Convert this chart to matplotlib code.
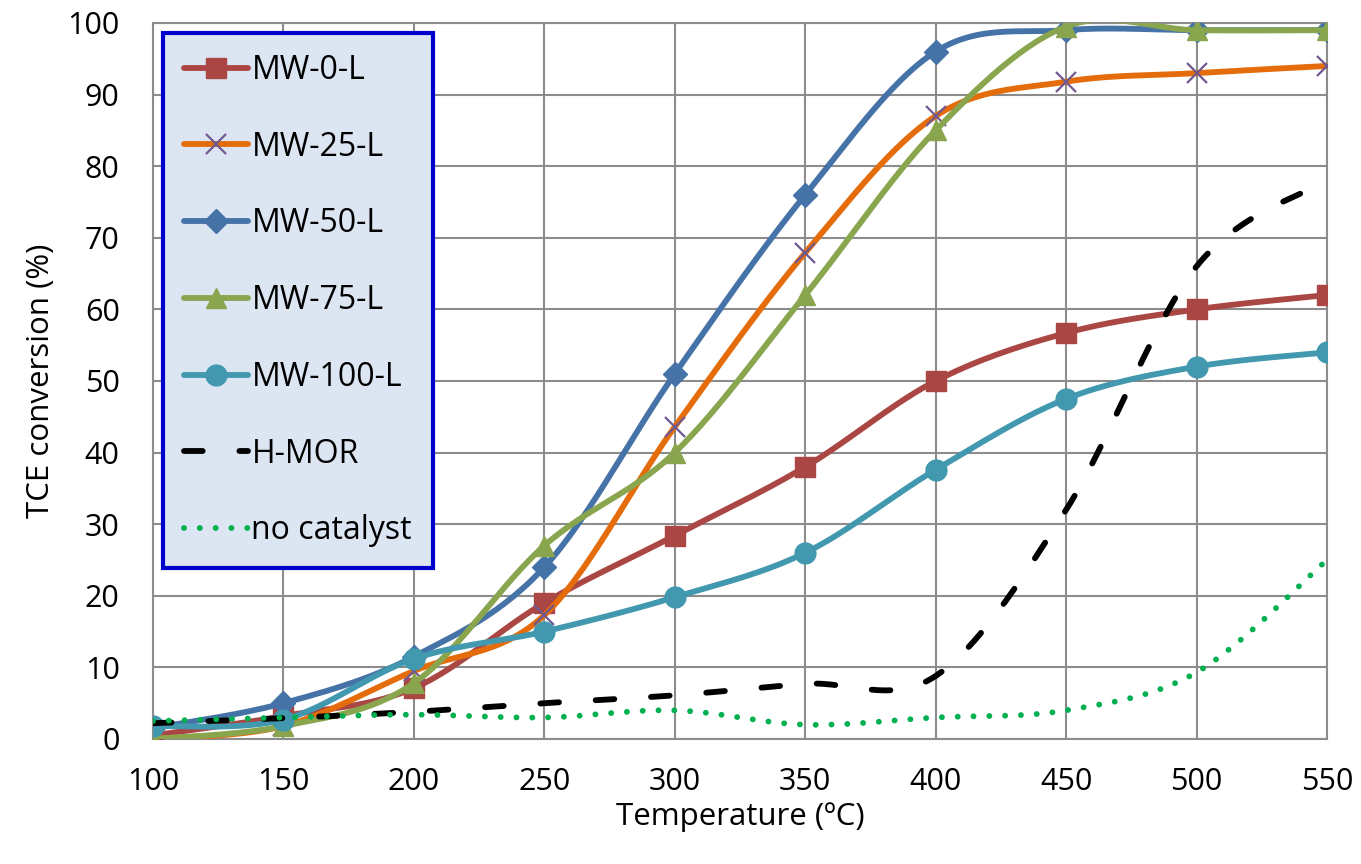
import numpy as np
import matplotlib
matplotlib.use('Agg')
import matplotlib.pyplot as plt

# -----------------------------------------------------------------------------------------------------------
# TCE conversion versus temperature for the MW-x-L catalysts, H-MOR and the blank run.
# -----------------------------------------------------------------------------------------------------------

temperature = [100, 150, 200, 250, 300, 350, 400, 450, 500, 550]

mw_0_l = [0.5, 3.2, 7.1, 19.0, 28.4, 38.0, 50.0, 56.7, 60.0, 62.0]
mw_25_l = [0.0, 1.8, 9.5, 17.3, 43.6, 67.9, 87.0, 91.8, 93.0, 94.0]
mw_50_l = [1.5, 5.0, 11.5, 24.0, 51.0, 76.0, 96.0, 99.0, 99.0, 99.0]
mw_75_l = [0.0, 1.8, 7.8, 27.0, 40.0, 62.0, 85.0, 99.5, 99.0, 99.0]
mw_100_l = [1.8, 2.7, 11.2, 15.0, 19.8, 26.0, 37.6, 47.5, 52.0, 54.0]
h_mor = [2.2, 2.9, 3.8, 5.0, 6.1, 7.7, 8.8, 32.0, 66.0, 78.0]
no_catalyst = [2.5, 3.0, 3.4, 3.0, 4.0, 2.0, 3.0, 4.0, 9.3, 25.0]

labels = ['MW-0-L', 'MW-25-L', 'MW-50-L', 'MW-75-L', 'MW-100-L', 'H-MOR', 'no catalyst']

N_SEG = 30


def smooth(x, y, n=N_SEG):
    # Excel-like smoothed line: cubic Bezier through every point
    x = np.asarray(x, float)
    y = np.asarray(y, float)
    pts = np.column_stack([x, y])
    out = [pts[0]]
    t = np.linspace(0, 1, n + 1)[1:]
    for i in range(len(pts) - 1):
        p0 = pts[i - 1] if i > 0 else pts[i]
        p1 = pts[i]
        p2 = pts[i + 1]
        p3 = pts[i + 2] if i + 2 < len(pts) else pts[i + 1]
        c1 = p1 + (p2 - p0) / 6
        c2 = p2 - (p3 - p1) / 6
        for tt in t:
            b = ((1 - tt) ** 3) * p1 + 3 * ((1 - tt) ** 2) * tt * c1 + 3 * (1 - tt) * tt ** 2 * c2 + tt ** 3 * p2
            out.append(b)
    out = np.array(out)
    return out[:, 0], out[:, 1]


plt.rcParams['font.family'] = ['Open Sans', 'DejaVu Sans']

fig = plt.figure(figsize=(13.61, 8.64), dpi=100)
ax = fig.add_axes([0.1124, 0.1447, 0.8626, 0.8287])

lw = 4.2
grid_c = '#8c8c8c'

styles = [
    dict(color='#aa4643', marker='s', ms=14, mfc='#aa4643', mec='#aa4643'),
    dict(color='#e46c0a', marker='x', ms=15, mfc='#71588f', mec='#71588f', mew=1.6),
    dict(color='#4572a7', marker='D', ms=12, mfc='#4572a7', mec='#4572a7'),
    dict(color='#89a54e', marker='^', ms=15, mfc='#89a54e', mec='#89a54e'),
    dict(color='#4198af', marker='o', ms=15, mfc='#4198af', mec='#4198af'),
]

series = [mw_0_l, mw_25_l, mw_50_l, mw_75_l, mw_100_l]
for vals, lab, st in zip(series, labels[:5], styles):
    xs, ys = smooth(temperature, vals)
    ax.plot(xs, ys, lw=lw, markevery=N_SEG, label=lab, zorder=3,
            solid_capstyle='round', **st)

xs, ys = smooth(temperature, h_mor)
ax.plot(xs, ys, color='black', lw=lw, dashes=(3.2, 6.3), dash_capstyle='round',
        label=labels[5], zorder=3)

xs, ys = smooth(temperature, no_catalyst)
ax.plot(xs, ys, color='#00b050', lw=4.2, dashes=(0.01, 2.7), dash_capstyle='round',
        label=labels[6], zorder=3)

ax.set_xlim(100, 550)
ax.set_ylim(0, 100)
ax.set_xticks(np.arange(100, 551, 50))
ax.set_yticks(np.arange(0, 101, 10))
ax.grid(True, color=grid_c, lw=1.5)
ax.set_axisbelow(True)
for s in ax.spines.values():
    s.set_color(grid_c)
    s.set_linewidth(1.5)
ax.tick_params(length=0, labelsize=22)
ax.tick_params(axis='y', pad=24)
ax.tick_params(axis='x', pad=20)

ax.set_xlabel('Temperature (ºC)', fontsize=22.5, labelpad=4)
ax.set_ylabel('TCE conversion (%)', fontsize=22.5, labelpad=8)

leg = ax.legend(loc='upper left', bbox_to_anchor=(0.0085, 0.986), borderaxespad=0,
                fontsize=23, handlelength=2.0, handletextpad=0.12, labelspacing=1.37,
                borderpad=0.65, fancybox=False, framealpha=1)
leg.get_frame().set_facecolor('#dce6f2')
leg.get_frame().set_edgecolor('#0000cc')
leg.get_frame().set_linewidth(3)

fig.savefig('out.png', dpi=100)
